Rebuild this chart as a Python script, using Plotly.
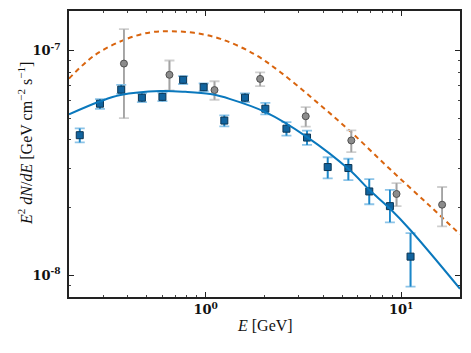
import numpy as np
import plotly.graph_objects as go

# measured points (blue squares)
blue_e = [0.227, 0.288, 0.370, 0.472, 0.601, 0.767, 0.977, 1.246, 1.589, 2.02, 2.59, 3.30, 4.21, 5.37, 6.87, 8.76, 11.17]
blue_flux = [4.2e-8, 5.8e-8, 6.7e-8, 6.17e-8, 6.22e-8, 7.41e-8, 6.87e-8, 4.88e-8, 6.17e-8, 5.51e-8, 4.49e-8, 4.1e-8, 3.03e-8, 3.0e-8, 2.36e-8, 2.03e-8, 1.21e-8]
blue_lo = [3.9e-8, 5.5e-8, 6.42e-8, 5.9e-8, 5.95e-8, 7.1e-8, 6.6e-8, 4.6e-8, 5.9e-8, 5.2e-8, 4.18e-8, 3.8e-8, 2.7e-8, 2.65e-8, 2.07e-8, 1.72e-8, 8.9e-9]
blue_hi = [4.5e-8, 6.08e-8, 7.04e-8, 6.45e-8, 6.5e-8, 7.7e-8, 7.15e-8, 5.15e-8, 6.45e-8, 5.85e-8, 4.8e-8, 4.4e-8, 3.35e-8, 3.3e-8, 2.68e-8, 2.4e-8, 1.54e-8]

# grey circles
grey_e = [0.382, 0.653, 1.11, 1.90, 3.25, 5.56, 9.47, 16.2]
grey_flux = [8.75e-8, 7.8e-8, 6.67e-8, 7.48e-8, 5.1e-8, 3.98e-8, 2.3e-8, 2.06e-8]
grey_lo = [5.0e-8, 6.64e-8, 6.04e-8, 6.94e-8, 4.59e-8, 3.53e-8, 2.03e-8, 1.65e-8]
grey_hi = [1.245e-7, 9.03e-8, 7.3e-8, 8.0e-8, 5.6e-8, 4.41e-8, 2.57e-8, 2.47e-8]

# model curves
fit_e = [0.2, 0.287, 0.367, 0.587, 0.788, 1.057, 1.337, 2.024, 3.303, 5.473, 6.866, 8.757, 11.17, 20.0]
fit_flux = [5.2e-8, 5.93e-8, 6.34e-8, 6.6e-8, 6.55e-8, 6.4e-8, 6.08e-8, 5.32e-8, 4.12e-8, 2.93e-8, 2.4e-8, 1.98e-8, 1.585e-8, 8.7e-9]

ref_e = [0.2, 0.269, 0.383, 0.524, 0.663, 0.872, 1.192, 1.764, 2.414, 3.569, 5.494, 8.787, 14.06, 20.0]
ref_flux = [7.5e-8, 9.5e-8, 1.116e-7, 1.206e-7, 1.218e-7, 1.199e-7, 1.127e-7, 9.67e-8, 8.01e-8, 6.06e-8, 4.37e-8, 2.96e-8, 2.03e-8, 1.52e-8]


def err(v, lo, hi):
    v, lo, hi = np.array(v), np.array(lo), np.array(hi)
    return hi - v, v - lo


fig = go.Figure()

fig.add_trace(go.Scatter(x=ref_e, y=ref_flux, mode="lines",
                         line=dict(color="#d9650f", width=2, dash="5px,4px", shape="spline")))

gp, gm = err(grey_flux, grey_lo, grey_hi)
fig.add_trace(go.Scatter(x=grey_e, y=grey_flux, mode="markers", marker=dict(size=0.1, opacity=0),
                         error_y=dict(type="data", array=gp, arrayminus=gm, color="#cfcfcf", thickness=1.8, width=5)))
fig.add_trace(go.Scatter(x=grey_e, y=grey_flux, mode="markers",
                         marker=dict(symbol="circle", size=7, color="#8c8c8c", line=dict(color="#505050", width=1)),
                         error_y=dict(type="data", array=gp, arrayminus=gm, color="#a3a3a3", thickness=1.8, width=0)))

bp, bm = err(blue_flux, blue_lo, blue_hi)
fig.add_trace(go.Scatter(x=blue_e, y=blue_flux, mode="markers", marker=dict(size=0.1, opacity=0),
                         error_y=dict(type="data", array=bp, arrayminus=bm, color="#8cc4e8", thickness=1.8, width=5)))
fig.add_trace(go.Scatter(x=blue_e, y=blue_flux, mode="markers",
                         marker=dict(symbol="square", size=7, color="#11649f", line=dict(color="#0b3554", width=1)),
                         error_y=dict(type="data", array=bp, arrayminus=bm, color="#1b86c8", thickness=1.8, width=0)))

fig.add_trace(go.Scatter(x=fit_e, y=fit_flux, mode="lines", line=dict(color="#0a78bd", width=2, shape="spline")))

x_minor = [0.3, 0.4, 0.5, 0.6, 0.7, 0.8, 0.9, 2, 3, 4, 5, 6, 7, 8, 9, 20]
y_minor = [9e-9, 2e-8, 3e-8, 4e-8, 5e-8, 6e-8, 7e-8, 8e-8, 9e-8]

axis_common = dict(type="log", showgrid=False, zeroline=False, showline=True, linecolor="#222", linewidth=1.5,
                   mirror="allticks", ticks="inside", ticklen=5, tickcolor="#222", automargin=False,
                   tickfont=dict(family="DejaVu Serif", size=13, color="#111"))

fig.update_xaxes(**axis_common, range=[np.log10(0.2), np.log10(20)], tickvals=[1, 10],
                 ticktext=["<b>10<sup>0</sup></b>", "<b>10<sup>1</sup></b>"],
                 minor=dict(tickvals=x_minor, ticks="inside", ticklen=2.5, tickcolor="#444"))
fig.update_yaxes(**axis_common, range=[np.log10(8e-9), np.log10(1.5e-7)], tickvals=[1e-8, 1e-7],
                 ticktext=["<b>10<sup>-8</sup></b>", "<b>10<sup>-7</sup></b>"], ticklabelstandoff=4,
                 minor=dict(tickvals=y_minor, ticks="inside", ticklen=2.5, tickcolor="#444"))

title_font = dict(family="Liberation Serif", size=16, color="#111")
fig.add_annotation(text="<i>E</i> [GeV]", xref="paper", yref="paper", x=0.5, y=0,
                   xanchor="center", yanchor="middle", yshift=-28, showarrow=False, font=title_font)
fig.add_annotation(text="<i>E</i><sup>2</sup> <i>dN</i>/<i>dE</i> [GeV cm<sup>−2</sup> s<sup>−1</sup>]",
                   xref="paper", yref="paper", x=0, y=0.5, xanchor="center", yanchor="middle",
                   xshift=-44, yshift=10, textangle=-90, showarrow=False, font=title_font)

# page body has an 8px margin, so the plot box is shifted back by that amount
fig.update_layout(width=471, height=353, showlegend=False, plot_bgcolor="white", paper_bgcolor="white",
                  margin=dict(l=61, r=19, t=3, b=64))

fig.write_html("out.html")
